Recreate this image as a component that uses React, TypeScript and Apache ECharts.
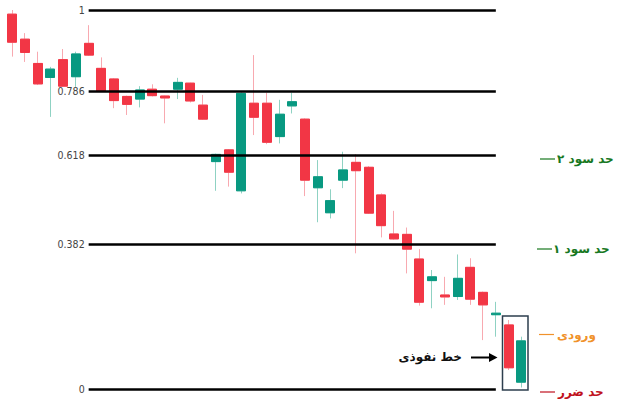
import React, { useEffect, useRef } from "react";
import * as echarts from "echarts";

const categories = [
  "1", "2", "3", "4", "5", "6", "7", "8", "9", "10",
  "11", "12", "13", "14", "15", "16", "17", "18", "19", "20",
  "21", "22", "23", "24", "25", "26", "27", "28", "29", "30",
  "31", "32", "33", "34", "35", "36", "37", "38", "39", "40", "41",
];

const opens = [
  0.989, 0.923, 0.859, 0.822, 0.869, 0.824, 0.912, 0.846, 0.818, 0.772,
  0.765, 0.791, 0.773, 0.791, 0.807, 0.749, 0.600, 0.631, 0.523, 0.754,
  0.754, 0.666, 0.747, 0.712, 0.531, 0.465, 0.551, 0.598, 0.585, 0.512,
  0.409, 0.408, 0.343, 0.286, 0.248, 0.244, 0.321, 0.255, 0.196, 0.169, 0.018,
];
const closes = [
  0.915, 0.888, 0.805, 0.844, 0.799, 0.884, 0.881, 0.787, 0.761, 0.751,
  0.789, 0.774, 0.768, 0.809, 0.760, 0.712, 0.619, 0.572, 0.780, 0.717,
  0.651, 0.725, 0.758, 0.551, 0.560, 0.497, 0.578, 0.576, 0.464, 0.431,
  0.396, 0.369, 0.229, 0.296, 0.243, 0.292, 0.237, 0.222, 0.200, 0.056, 0.127,
];
const lows = [
  0.877, 0.863, 0.802, 0.718, 0.797, 0.797, 0.879, 0.785, 0.741, 0.723,
  0.743, 0.772, 0.701, 0.765, 0.756, 0.710, 0.523, 0.534, 0.516, 0.670,
  0.646, 0.648, 0.727, 0.509, 0.440, 0.450, 0.530, 0.358, 0.462, 0.400,
  0.394, 0.305, 0.220, 0.213, 0.222, 0.235, 0.222, 0.129, 0.138, 0.050, 0.004,
];
const highs = [
  1.000, 0.939, 0.890, 0.850, 0.897, 0.890, 0.960, 0.875, 0.820, 0.774,
  0.799, 0.804, 0.774, 0.821, 0.808, 0.776, 0.621, 0.633, 0.783, 0.881,
  0.782, 0.763, 0.782, 0.714, 0.604, 0.527, 0.626, 0.620, 0.588, 0.516,
  0.470, 0.426, 0.369, 0.314, 0.296, 0.355, 0.345, 0.257, 0.230, 0.182, 0.138,
];

const fibLevels = [1, 0.786, 0.618, 0.382, 0];
const fibLabels = ["1", "0.786", "0.618", "0.382", "0"];
const fibStartIndex = 6;
const fibEndIndex = 38;

const sideLabels = ["حد سود ۲", "حد سود ۱", "ورودی", "حد ضرر"];
const breakoutLabel = "خط نفوذی";

const UP = "#089981";
const DOWN = "#f23645";
const UP_WICK = "#8fd2c3";
const DOWN_WICK = "#f8a9b0";

export default function App() {
  const ref = useRef<HTMLDivElement>(null);

  useEffect(() => {
    if (!ref.current) return;
    const chart = echarts.init(ref.current, undefined, { renderer: "svg" });

    const full = categories.map((_, i) => [opens[i], closes[i], lows[i], highs[i]]);
    const bodies = categories.map((_, i) => [
      opens[i],
      closes[i],
      Math.min(opens[i], closes[i]),
      Math.max(opens[i], closes[i]),
    ]);

    const arabicFont = '"DejaVu Sans", sans-serif';
    const green = "#18781f";
    const orange = "#f0922b";
    const red = "#c0121e";

    const sideColors = [green, green, orange, red];
    const sideY = [159, 249, 334.5, 392];
    const sideX = [557, 553, 557, 558];
    const dashX = [540, 537, 539, 540];

    const graphics: any[] = [];
    sideLabels.forEach((t, i) => {
      graphics.push({
        type: "line",
        shape: { x1: dashX[i], y1: sideY[i], x2: dashX[i] + 15, y2: sideY[i] },
        style: { stroke: sideColors[i], lineWidth: 1.2 },
        silent: true,
      });
      graphics.push({
        type: "text",
        x: sideX[i],
        y: sideY[i],
        style: {
          text: t,
          fill: sideColors[i],
          fontFamily: arabicFont,
          fontWeight: "bold",
          fontSize: 12,
          textAlign: "left",
          textVerticalAlign: "middle",
        },
        silent: true,
      });
    });
    graphics.push({
      type: "text",
      x: 462,
      y: 356.5,
      style: {
        text: breakoutLabel,
        fill: "#111",
        fontFamily: arabicFont,
        fontWeight: "bold",
        fontSize: 12,
        textAlign: "right",
        textVerticalAlign: "middle",
      },
      silent: true,
    });
    graphics.push({
      type: "line",
      shape: { x1: 471, y1: 357.5, x2: 490, y2: 357.5 },
      style: { stroke: "#000", lineWidth: 2 },
      silent: true,
    });
    graphics.push({
      type: "polygon",
      shape: { points: [[489, 353], [497.5, 357.5], [489, 362]] },
      style: { fill: "#000" },
      silent: true,
    });
    graphics.push({
      type: "rect",
      shape: { x: 502.5, y: 316, width: 25.5, height: 74 },
      style: { fill: "none", stroke: "#2d3e4e", lineWidth: 1.5 },
      silent: true,
      z: 100,
    });

    chart.setOption({
      animation: false,
      backgroundColor: "#ffffff",
      grid: { left: 5.94, width: 521.7, top: 2.42, height: 401.74 },
      xAxis: {
        type: "category",
        data: categories,
        boundaryGap: true,
        show: false,
      },
      yAxis: {
        type: "value",
        min: -0.04,
        max: 1.02,
        show: false,
        splitLine: { show: false },
      },
      series: [
        {
          type: "candlestick",
          data: full,
          barWidth: 9.5,
          z: 2,
          itemStyle: {
            color: "rgba(0,0,0,0)",
            color0: "rgba(0,0,0,0)",
            borderColor: UP_WICK,
            borderColor0: DOWN_WICK,
            borderWidth: 1,
          },
          silent: true,
        },
        {
          type: "candlestick",
          data: bodies,
          barWidth: 9.5,
          z: 3,
          itemStyle: {
            color: UP,
            color0: DOWN,
            borderColor: UP,
            borderColor0: DOWN,
            borderWidth: 1,
          },
          silent: true,
          markLine: {
            silent: true,
            symbol: ["none", "none"],
            lineStyle: { color: "#000", width: 2.5, type: "solid" },
            label: {
              show: true,
              position: "start",
              distance: 4,
              color: "#444",
              fontSize: 10.5,
              fontFamily: '"Liberation Sans Narrow", "DejaVu Sans Condensed", sans-serif',
            },
            data: fibLevels.map((lv, i) => [
              {
                coord: [categories[fibStartIndex], lv],
                label: { formatter: fibLabels[i] },
              },
              { coord: [categories[fibEndIndex], lv] },
            ]),
          },
        },
      ],
      graphic: graphics,
    });

    return () => chart.dispose();
  }, []);

  return (
    <div
      ref={ref}
      style={{ position: "fixed", left: 0, top: 0, width: 624, height: 412, background: "#fff" }}
    />
  );
}
